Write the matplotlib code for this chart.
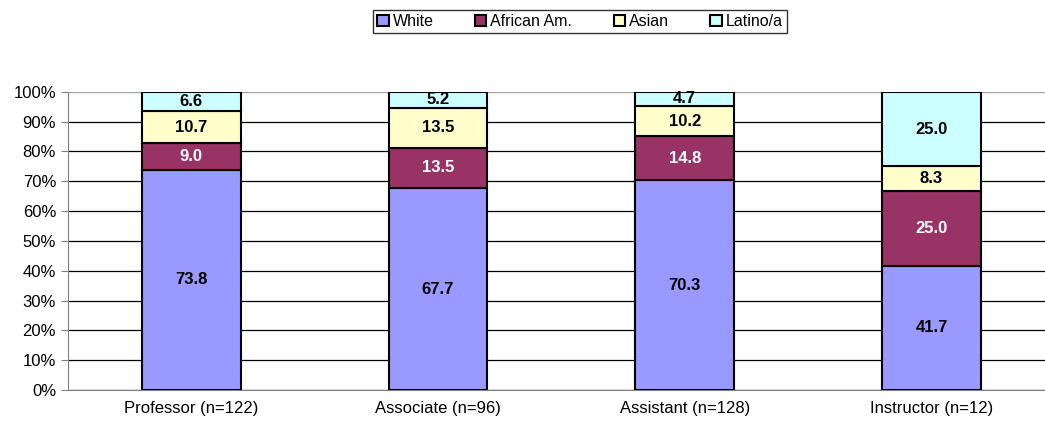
import matplotlib.pyplot as plt
import numpy as np

plt.rcParams["font.family"] = ["Liberation Sans", "DejaVu Sans"]

categories = ["Professor (n=122)", "Associate (n=96)", "Assistant (n=128)", "Instructor (n=12)"]
series = ["White", "African Am.", "Asian", "Latino/a"]
white = [73.8, 67.7, 70.3, 41.7]
african = [9.0, 13.5, 14.8, 25.0]
asian = [10.7, 13.5, 10.2, 8.3]
latino = [6.6, 5.2, 4.7, 25.0]

colors = ["#9999FF", "#993366", "#FFFFCC", "#CCFFFF"]
text_colors = ["black", "white", "black", "black"]

fig = plt.figure(figsize=(10.45, 4.29), dpi=100)
ax = fig.add_axes([0.065, 0.091, 0.935, 0.695])

x = np.arange(len(categories))
bottom = np.zeros(len(categories))
for name, vals, col, tc in zip(series, [white, african, asian, latino], colors, text_colors):
    vals = np.array(vals)
    ax.bar(x, vals, 0.4, bottom=bottom, color=col, edgecolor="black",
           linewidth=1.5, label=name, zorder=3)
    for xi, b, v in zip(x, bottom, vals):
        ax.text(xi, b + v / 2, f"{v:.1f}", ha="center", va="center",
                fontsize=12, fontweight="bold", color=tc, zorder=4)
    bottom += vals

ax.set_xlim(-0.5, 3.46)
ax.set_ylim(0, 100)
ax.set_yticks(np.arange(0, 101, 10))
ax.set_yticklabels([f"{v}%" for v in range(0, 101, 10)])
ax.set_xticks(x)
ax.set_xticklabels(categories)
ax.tick_params(axis="both", labelsize=12, length=5, color="#808080")
ax.tick_params(axis="x", length=0, pad=8)
ax.yaxis.grid(True, color="black", linewidth=0.9, zorder=0)
ax.get_ygridlines()[-1].set_color("#a0a0a0")
for s in ["top", "right"]:
    ax.spines[s].set_visible(False)
ax.spines["left"].set_color("#808080")
ax.spines["bottom"].set_color("#808080")

leg = fig.legend(loc="upper center", bbox_to_anchor=(0.555, 0.995), ncol=4,
                 fontsize=11.5, frameon=True, fancybox=False, edgecolor="black",
                 handlelength=0.7, handleheight=0.7, handletextpad=0.25,
                 columnspacing=2.6, borderpad=0.25)
leg.get_frame().set_linewidth(1.0)

fig.savefig("out.png", dpi=100)
